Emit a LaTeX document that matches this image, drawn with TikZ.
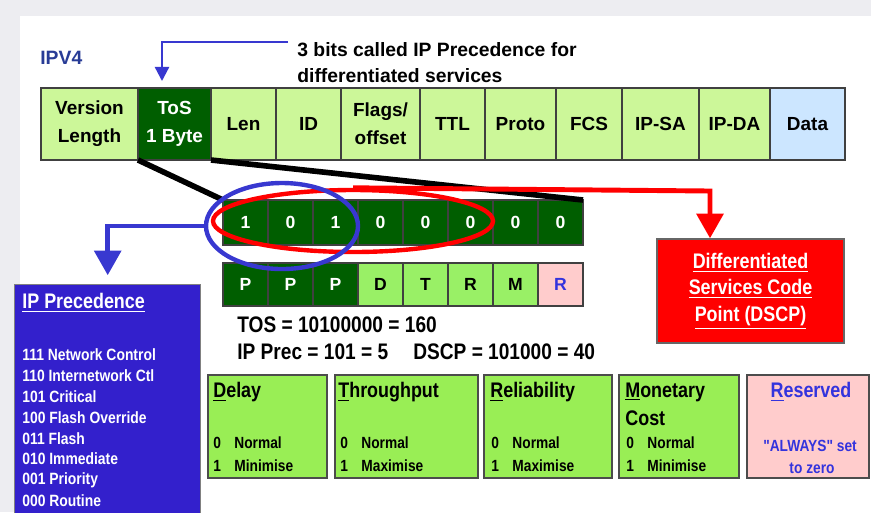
\documentclass[tikz,border=0pt]{standalone}
\usepackage{fontspec}
\setmainfont{Liberation Sans}
\newfontfamily\narrowsf[FakeStretch=0.85]{Liberation Sans}
\usetikzlibrary{shapes.geometric, arrows.meta, positioning}

\definecolor{bggray}{HTML}{EDEDF1}
\definecolor{hdrgreen}{HTML}{CCF799}
\definecolor{darkgrn}{HTML}{005E00}
\definecolor{flaggreen}{HTML}{99F066}
\definecolor{boxgreen}{HTML}{99EE55}
\definecolor{respink}{HTML}{FFCCCC}
\definecolor{datablue}{HTML}{CCE6FF}
\definecolor{precblue}{HTML}{3320CC}
\definecolor{arrowblue}{HTML}{3838D0}
\definecolor{ipvblue}{HTML}{283C96}
\definecolor{restext}{HTML}{3333DD}

\newcommand{\bitrow}[2]{\makebox[12pt][l]{#1}#2}

\begin{document}
\begin{tikzpicture}[x=0.02cm, y=-0.02cm,
  cell/.style={draw=black!75, line width=0.8pt, inner sep=0pt, outer sep=0pt, align=center,
    font=\fontsize{10.8}{15.8}\selectfont\bfseries},
  hdr/.style={fill=hdrgreen},
  tosbyte/.style={fill=darkgrn, text=white},
  payload/.style={fill=datablue},
  bit/.style={cell, fill=darkgrn, text=white, minimum width=45*0.02cm,
    font=\fontsize{10}{12}\selectfont\bfseries},
  flagdark/.style={fill=darkgrn, text=white},
  flaglight/.style={fill=flaggreen, text=black},
  flagres/.style={fill=respink, text=restext},
  fieldbox/.style={draw=black!70, line width=0.8pt, inner sep=0pt, outer sep=0pt,
    minimum height=103*0.02cm},
  tosfield/.style={fill=boxgreen},
  resfield/.style={fill=respink},
  boxtitle/.style={inner sep=0pt, font=\narrowsf\fontsize{12}{14}\selectfont\bfseries},
  boxsmall/.style={inner sep=0pt, font=\narrowsf\fontsize{9.2}{11}\selectfont\bfseries},
  notetext/.style={inner sep=0pt, font=\fontsize{11}{13}\selectfont\bfseries},
  calctext/.style={inner sep=0pt, anchor=west, font=\narrowsf\fontsize{12.8}{15}\selectfont\bfseries},
  feedline/.style={line width=3.2pt, black},
  thinblue/.style={draw=arrowblue, line width=1.3pt, -{Triangle[width=8pt,length=8pt]}},
  thickblue/.style={draw=arrowblue, line width=2.8pt, -{Triangle[width=15pt,length=14pt]}},
  redfeed/.style={draw=red, line width=2.8pt, -{Triangle[width=15pt,length=14pt]}},
  ring/.style={ellipse, line width=2.5pt, inner sep=0pt}
]

  % ---- page and background ----
  \useasboundingbox (0,0) rectangle (871,512);
  \fill[bggray] (0,0) rectangle (871,512);
  \fill[white] (20,16) rectangle (871,512);

  \node[anchor=west, inner sep=0pt, text=ipvblue, font=\fontsize{11}{13}\selectfont\bfseries] (ipv4) at (40,58) {IPV4};

  % ---- IPv4 header fields ----
  \foreach \nm/\xa/\xb/\clr/\txt in {ver/41/138/hdr/{Version\\Length}, tos/138/211/tosbyte/{ToS\\1 Byte},
      len/211/276/hdr/Len, id/276/341/hdr/ID, flg/341/420/hdr/{Flags/\\offset}, ttl/420/485/hdr/TTL,
      proto/485/556/hdr/Proto, fcs/556/622/hdr/FCS, sa/622/699/hdr/IP-SA, da/699/770/hdr/IP-DA,
      data/770/845/payload/Data} {
    \node[cell, \clr, minimum width={(\xb-\xa)*0.02cm}, minimum height=72*0.02cm] (\nm) at ({(\xa+\xb)/2}, 124) {\txt};
  }

  % note on the ToS byte
  \node[notetext, anchor=west] (note1) at (297,50) {3 bits called IP Precedence for};
  \node[notetext, anchor=west] (note2) at (297,76) {differentiated services};
  \coordinate (tosmark) at (162,81);
  \draw[thinblue] ([shift={(-9,-8)}]note1.west) -| (tosmark);

  % ---- ToS bits: 10100000 ----
  \foreach \v [count=\i] in {1,0,1,0,0,0,0,0} {
    \node[bit, minimum height=45*0.02cm] (b\i) at ({200.5+45*\i}, 222.5) {\v};
  }
  \foreach \v/\clr [count=\i] in {P/flagdark, P/flagdark, P/flagdark, D/flaglight, T/flaglight,
      R/flaglight, M/flaglight, R/flagres} {
    \node[bit, \clr, minimum height=43*0.02cm] (f\i) at ({200.5+45*\i}, 284.5) {\v};
  }

  % zoom lines from the header into the byte
  \draw[feedline] (ver.south east) -- (b1.north west);
  \draw[feedline] (tos.south east) -- (b8.north east);

  % rings round precedence and DSCP bits
  \node[ring, draw=red, minimum width=280*0.02cm, minimum height=62*0.02cm] (dsring) at (353,221) {};
  \node[ring, draw=arrowblue, minimum width=152*0.02cm, minimum height=86*0.02cm] (precring) at (282,226) {};

  % ---- DSCP ----
  \node[fill=red, draw=black!60, line width=0.8pt, minimum width=187*0.02cm, minimum height=104*0.02cm,
    text=white, align=center, font=\narrowsf\fontsize{12}{15}\selectfont\bfseries]
    (dscp) at (750.5,291) {\underline{Differentiated}\\\underline{Services Code}\\\underline{Point (DSCP)}};
  \coordinate (dsdrop) at (710,191);
  \draw[redfeed] (dsring.north) -- (dsdrop) -- (dsdrop |- dscp.north);

  % ---- IP precedence table ----
  \node[fill=precblue, draw=black!50, line width=0.8pt, anchor=north west, minimum width=186*0.02cm,
    minimum height=240*0.02cm] (ipprec) at (14,284) {};
  \draw[thickblue, shorten >=5pt] (precring.west) -| (ipprec.north);
  \node[anchor=west, inner sep=0pt, text=white, font=\narrowsf\fontsize{12}{14}\selectfont\bfseries]
    (prechead) at (22,303) {\underline{IP Precedence}};
  \foreach \t [count=\i] in {111 Network Control, 110 Internetwork Ctl, 101 Critical, 100 Flash Override,
      011 Flash, 010 Immediate, 001 Priority, 000 Routine} {
    \node[anchor=west, inner sep=0pt, text=white, font=\narrowsf\fontsize{9.3}{11}\selectfont\bfseries]
      (prec\i) at (22, {355+20.8*(\i-1)}) {\t};
  }

  % ---- worked values ----
  \node[calctext] (tosval) at (237,325) {TOS = 10100000 = 160};
  \node[calctext] (precval) at (237,352) {IP Prec = 101 = 5};
  \node[calctext] (dscpval) at (413,352) {DSCP = 101000 = 40};

  % ---- meaning of the D T R M R bits ----
  \foreach \nm/\xa/\xb/\clr in {delay/208/327/tosfield, thru/335/478/tosfield, rel/484/612/tosfield,
      cost/619/739/tosfield, rsv/747/869/resfield} {
    \node[fieldbox, \clr, minimum width={(\xb-\xa)*0.02cm}] (\nm) at ({(\xa+\xb)/2}, 426.5) {};
  }
  \node[boxtitle, anchor=west] (delayttl) at (213,392) {\underline{D}elay};
  \node[boxtitle, anchor=west] (thruttl) at (338,392) {\underline{T}hroughput};
  \node[boxtitle, anchor=west] (relttl) at (490,392) {\underline{R}eliability};
  \node[boxtitle, anchor=west] (costttl) at (625,392) {\underline{M}onetary};
  \node[boxtitle, anchor=west] (costttl2) at (625,418) {Cost};
  \node[boxtitle, text=restext] (rsvttl) at (811,392) {\underline{R}eserved};

  \foreach \nm/\xx/\word in {delay/213/Minimise, thru/340/Maximise, rel/491/Maximise, cost/626/Minimise} {
    \node[boxsmall, anchor=west] (\nm0) at (\xx,443) {\bitrow{0}{Normal}};
    \node[boxsmall, anchor=west] (\nm1) at (\xx,466) {\bitrow{1}{\word}};
  }
  \node[boxsmall, text=restext] (rsv0) at (810,446) {"ALWAYS" set};
  \node[boxsmall, text=restext] (rsv1) at (812,468) {to zero};

\end{tikzpicture}
\end{document}
